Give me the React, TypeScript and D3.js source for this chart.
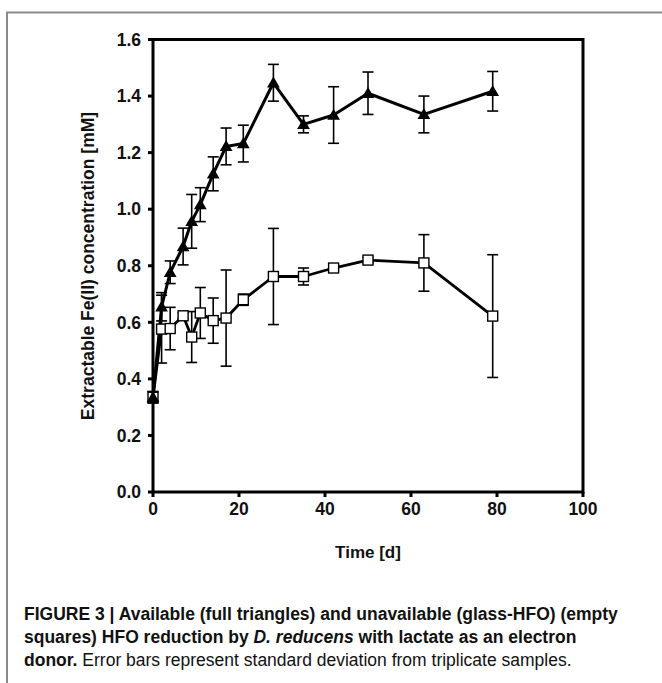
import React from "react";
import * as d3 from "d3";

const availTime = [0, 2, 4, 7, 9, 11, 14, 17, 21, 28, 35, 42, 50, 63, 79];
const availValue = [0.335, 0.655, 0.777, 0.868, 0.957, 1.016, 1.125, 1.222, 1.232, 1.447, 1.3, 1.333, 1.41, 1.335, 1.417];
const availErr = [0.02, 0.05, 0.04, 0.065, 0.095, 0.06, 0.06, 0.065, 0.065, 0.065, 0.03, 0.1, 0.075, 0.065, 0.07];

const unavTime = [0, 2, 4, 7, 9, 11, 14, 17, 21, 28, 35, 42, 50, 63, 79];
const unavValue = [0.335, 0.576, 0.578, 0.623, 0.548, 0.633, 0.606, 0.615, 0.68, 0.762, 0.762, 0.792, 0.82, 0.81, 0.622];
const unavErr = [0.02, 0.12, 0.075, 0.01, 0.09, 0.09, 0.08, 0.17, 0.02, 0.17, 0.03, 0.01, 0.01, 0.1, 0.217];

const xTicks = [0, 20, 40, 60, 80, 100];
const yTicks = [0, 0.2, 0.4, 0.6, 0.8, 1.0, 1.2, 1.4, 1.6];

const xTitle = "Time [d]";
const yTitle = "Extractable Fe(II) concentration [mM]";

export default function App() {
  const left = 153, right = 583, top = 39.5, bottom = 492;
  const x = d3.scaleLinear().domain([0, 100]).range([left, right]);
  const y = d3.scaleLinear().domain([0, 1.6]).range([bottom, top]);
  const line = d3.line<[number, number]>().x(d => x(d[0])).y(d => y(d[1]));
  const avail = availTime.map((t, i) => [t, availValue[i]] as [number, number]);
  const unav = unavTime.map((t, i) => [t, unavValue[i]] as [number, number]);
  const font = "Liberation Sans, Arial, sans-serif";
  const cap = 5.5;
  const errBars = (ts: number[], vs: number[], es: number[], key: string) =>
    ts.map((t, i) => {
      const cx = x(t), y1 = y(vs[i] + es[i]), y2 = y(vs[i] - es[i]);
      return (
        <g key={key + i} stroke="#000" strokeWidth={1.6}>
          <line x1={cx} x2={cx} y1={y1} y2={y2} />
          <line x1={cx - cap} x2={cx + cap} y1={y1} y2={y1} />
          <line x1={cx - cap} x2={cx + cap} y1={y2} y2={y2} />
        </g>
      );
    });
  const tri = d3.symbol().type(d3.symbolTriangle).size(70)();
  return (
    <svg width={662} height={683} style={{ position: "absolute", left: 0, top: 0, background: "#fff" }}>
      <path d="M7,683 V12.5 H662" fill="none" stroke="#8a8a8a" strokeWidth={2} />
      {errBars(unavTime, unavValue, unavErr, "u")}
      {errBars(availTime, availValue, availErr, "a")}
      <path d={line(unav) || ""} fill="none" stroke="#000" strokeWidth={2.8} strokeLinejoin="round" />
      <path d={line(avail) || ""} fill="none" stroke="#000" strokeWidth={3} strokeLinejoin="round" />
      {unav.map((d, i) => (
        <rect key={"s" + i} x={x(d[0]) - 5} y={y(d[1]) - 5} width={10} height={10} fill="#fff" stroke="#000" strokeWidth={1.4} />
      ))}
      {avail.map((d, i) => (
        <path key={"t" + i} d={tri || ""} transform={`translate(${x(d[0])},${y(d[1]) + 1})`} fill="#000" />
      ))}
      <rect x={left} y={top} width={right - left} height={bottom - top} fill="none" stroke="#000" strokeWidth={3} />
      {yTicks.map(v => (
        <g key={"yt" + v}>
          <line x1={left - 5} x2={left} y1={y(v)} y2={y(v)} stroke="#000" strokeWidth={3} />
          <text x={141} y={y(v)} dy="0.36em" textAnchor="end" fontFamily={font} fontWeight="bold" fontSize={17.5} fill="#111">
            {d3.format(".1f")(v)}
          </text>
        </g>
      ))}
      {xTicks.map(v => (
        <g key={"xt" + v}>
          <line x1={x(v)} x2={x(v)} y1={bottom} y2={bottom + 5} stroke="#000" strokeWidth={3} />
          <text x={x(v)} y={515} textAnchor="middle" fontFamily={font} fontWeight="bold" fontSize={17.5} fill="#111">
            {v}
          </text>
        </g>
      ))}
      <text x={368} y={558} textAnchor="middle" fontFamily={font} fontWeight="bold" fontSize={17} fill="#111">{xTitle}</text>
      <text transform="translate(94,266) rotate(-90)" textAnchor="middle" fontFamily={font} fontWeight="bold" fontSize={17.5} fill="#111">{yTitle}</text>
      <g fontFamily="Liberation Sans Narrow, Arial Narrow, sans-serif" fontSize={17.5} fill="#111">
        <text x={24} y={620} fontWeight="bold">FIGURE 3 | Available (full triangles) and unavailable (glass-HFO) (empty</text>
        <text x={24} y={643} fontWeight="bold">
          squares) HFO reduction by <tspan fontStyle="italic">D. reducens</tspan> with lactate as an electron
        </text>
        <text x={24} y={666}>
          <tspan fontWeight="bold">donor.</tspan> Error bars represent standard deviation from triplicate samples.
        </text>
      </g>
    </svg>
  );
}
